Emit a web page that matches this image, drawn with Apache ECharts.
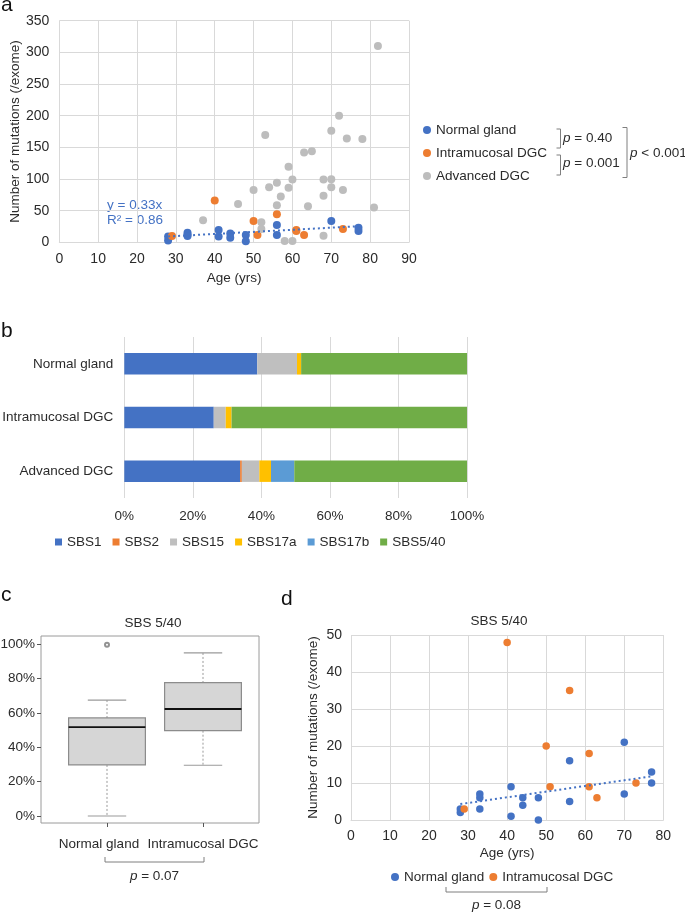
<!DOCTYPE html>
<html>
<head>
<meta charset="utf-8">
<script src="https://cdn.jsdelivr.net/npm/echarts/dist/echarts.min.js"></script>
<style>
  html, body { margin: 0; padding: 0; background: #fff; }
  #main { width: 685px; height: 913px; }
</style>
</head>
<body>
<div id="main"></div>
<script>
var FONT = '"Liberation Sans", Arial, sans-serif';
var BLUE = '#4472C4', ORANGE = '#ED7D31', GRAY = '#BDBDBD';
var GRID_LINE = '#D9D9D9', TXT = '#2b2b2b';

// a: age vs mutations per exome
var normalA = [[28, 3], [28, 9], [33, 15], [33, 12], [33, 10], [41, 19.5], [41, 9], [44, 14], [44, 7],
  [48, 11.5], [48, 1.5], [56, 27.5], [56, 11.5], [70, 33.5], [77, 23], [77, 18]];
var intraA = [[29, 10], [40, 66], [50, 33.5], [51, 11.5], [56, 44.5], [61, 19.5], [61, 18], [63, 11.5], [73, 21]];
var advancedA = [[37, 35], [46, 60.5], [50, 82.5], [52, 31.5], [52, 21], [53, 169.5], [54, 87], [56, 94],
  [56, 58.5], [57, 72.5], [58, 2], [59, 119.5], [59, 86], [60, 99], [60, 2], [63, 142], [64, 57], [65, 144],
  [68, 99], [68, 73.5], [68, 10.5], [70, 176], [70, 99.5], [70, 87], [72, 200], [73, 82.5], [74, 164],
  [78, 163], [81, 55], [82, 310]];
var trendA = [[28, 9.2], [77, 25.4]];

// b: signature contributions (%)
var groupsB = ['Normal gland', 'Intramucosal DGC', 'Advanced DGC'];
var sigNames = ['SBS1', 'SBS2', 'SBS15', 'SBS17a', 'SBS17b', 'SBS5/40'];
var sigColors = ['#4472C4', '#ED7D31', '#BFBFBF', '#FFC000', '#5B9BD5', '#70AD47'];
var sbs1 = [38.8, 26.1, 33.8];
var sbs2 = [0, 0, 0.5];
var sbs15 = [11.6, 3.5, 5.1];
var sbs17a = [1.2, 1.7, 3.4];
var sbs17b = [0, 0, 6.8];
var sbs540 = [48.4, 68.7, 50.4];
var sigValues = [sbs1, sbs2, sbs15, sbs17a, sbs17b, sbs540];

// c: SBS5/40 fraction boxplot  [min, q1, median, q3, max]
var boxGroups = ['Normal gland', 'Intramucosal DGC'];
var boxStats = [[0, 29.7, 51.7, 57, 67.4], [29.5, 49.6, 62.2, 77.5, 94.8]];
var boxOutliers = [[0, 99.6]];

// d: SBS5/40 mutations vs age
var normalD = [[28, 3], [28, 2], [33, 7], [33, 6], [33, 3], [41, 9], [41, 1], [44, 6], [44, 4], [48, 6],
  [48, 0], [56, 16], [56, 5], [70, 21], [70, 7], [77, 13], [77, 10]];
var intraD = [[29, 3], [40, 48], [50, 20], [51, 9], [56, 35], [61, 18], [61, 9], [63, 6], [73, 10]];
var trendD = [[28, 4.3], [77, 11.8]];

var chart = echarts.init(document.getElementById('main'));

function valueAxis(grid, min, max, interval, extra) {
  var ax = {
    type: 'value', gridIndex: grid, min: min, max: max, interval: interval,
    axisLine: { show: false }, axisTick: { show: false },
    splitLine: { show: true, lineStyle: { color: GRID_LINE, width: 1 } },
    axisLabel: { color: TXT, fontSize: 14, fontFamily: FONT },
    nameMoveOverlap: false
  };
  for (var k in extra) ax[k] = extra[k];
  return ax;
}

var nameStyle = { color: TXT, fontSize: 13.5, fontFamily: FONT };

var barSeries = sigNames.map(function (n, i) {
  return {
    name: n, type: 'bar', stack: 'sig', xAxisIndex: 1, yAxisIndex: 1,
    barWidth: '40%', data: sigValues[i], itemStyle: { color: sigColors[i] }
  };
});

function bracket(x1, x2, y1, y2) {
  return { type: 'polyline', shape: { points: [[x1, y1], [x1, y2], [x2, y2], [x2, y1]] },
    style: { stroke: '#7f7f7f', lineWidth: 1, fill: null } };
}
function vbracket(x1, x2, y1, y2) {
  return { type: 'polyline', shape: { points: [[x1, y1], [x2, y1], [x2, y2], [x1, y2]] },
    style: { stroke: '#7f7f7f', lineWidth: 1, fill: null } };
}
function ptext(str, x, y, align) {
  return { type: 'text', x: x, y: y, style: {
    text: '{i|p}' + str, align: align, verticalAlign: 'middle',
    font: '13.5px ' + FONT, fill: TXT,
    rich: { i: { fontStyle: 'italic', fontSize: 13.5, fontFamily: FONT, fill: TXT } } } };
}
function label(str, x, y, size, color) {
  return { type: 'text', x: x, y: y, style: { text: str, font: size + 'px ' + FONT, fill: color || '#111',
    align: 'left', verticalAlign: 'top' } };
}

var option = {
  animation: false,
  backgroundColor: '#fff',
  grid: [
    { left: 59.3, top: 20.7, width: 349.7, height: 221.6, outerBoundsMode: 'none' },
    { left: 124.3, top: 337, width: 342.7, height: 161, outerBoundsMode: 'none' },
    { left: 59, top: 644, width: 192, height: 172, outerBoundsMode: 'none' },
    { left: 41, top: 636, width: 218, height: 187, show: true, borderColor: '#9a9a9a', borderWidth: 1,
      backgroundColor: 'transparent', outerBoundsMode: 'none' },
    { left: 351, top: 635, width: 312.3, height: 185, outerBoundsMode: 'none' },
    // same columns as grid 2, bottom on the frame: carries the visible group axis of c
    { left: 59, top: 644, width: 192, height: 179, outerBoundsMode: 'none' }
  ],
  legend: [
    { data: ['Normal gland', 'Intramucosal DGC', 'Advanced DGC'], orient: 'vertical', left: 423, top: 123,
      padding: 0, icon: 'circle', itemWidth: 8, itemHeight: 8, itemGap: 9, selectedMode: false,
      textStyle: { color: TXT, fontSize: 13.5, fontFamily: FONT, lineHeight: 14 } },
    { data: sigNames, orient: 'horizontal', left: 55, top: 535, padding: 0, icon: 'rect',
      itemWidth: 7, itemHeight: 7, itemGap: 11, selectedMode: false,
      textStyle: { color: TXT, fontSize: 13.5, fontFamily: FONT } },
    { data: ['Normal gland', 'Intramucosal DGC'], orient: 'horizontal', left: 391, top: 870, padding: 0,
      icon: 'circle', itemWidth: 8, itemHeight: 8, itemGap: 5, selectedMode: false,
      textStyle: { color: TXT, fontSize: 13.5, fontFamily: FONT } }
  ],
  xAxis: [
    valueAxis(0, 0, 90, 10, {
      axisLine: { show: true, lineStyle: { color: GRID_LINE } },
      axisLabel: { color: TXT, fontSize: 14, fontFamily: FONT, margin: 10 },
      name: 'Age (yrs)', nameLocation: 'middle', nameGap: 29, nameTextStyle: nameStyle
    }),
    valueAxis(1, 0, 100, 20, {
      axisLabel: { color: TXT, fontSize: 13.5, fontFamily: FONT, margin: 11, formatter: '{value}%' }
    }),
    { type: 'category', gridIndex: 2, data: boxGroups, show: false },
    { type: 'value', gridIndex: 3, show: false },
    valueAxis(4, 0, 80, 10, {
      axisLine: { show: true, lineStyle: { color: GRID_LINE } },
      axisLabel: { color: TXT, fontSize: 14, fontFamily: FONT, margin: 9 },
      name: 'Age (yrs)', nameLocation: 'middle', nameGap: 26, nameTextStyle: nameStyle
    }),
    { type: 'category', gridIndex: 5, data: boxGroups,
      axisLine: { show: false },
      axisTick: { show: true, alignWithLabel: true, interval: 0, length: 4, lineStyle: { color: '#555' } },
      axisLabel: { interval: 0, color: TXT, fontSize: 13.5, fontFamily: FONT, margin: 14,
        formatter: function (v, i) { return i === 0 ? '{l|' + v + '}' : v; },
        rich: { l: { padding: [0, 16, 0, 0], fontSize: 13.5, fontFamily: FONT, color: TXT } } } }
  ],
  yAxis: [
    valueAxis(0, 0, 350, 50, {
      axisLabel: { color: TXT, fontSize: 14, fontFamily: FONT, margin: 10 },
      name: 'Number of mutations (/exome)', nameLocation: 'middle', nameGap: 37, nameTextStyle: nameStyle
    }),
    { type: 'category', gridIndex: 1, data: groupsB, inverse: true,
      axisLine: { show: false }, axisTick: { show: false },
      axisLabel: { color: TXT, fontSize: 13.5, fontFamily: FONT, margin: 11 } },
    { type: 'value', gridIndex: 2, min: 0, max: 100, interval: 20, offset: 18,
      axisLine: { show: false }, splitLine: { show: false },
      axisTick: { show: true, length: 4, lineStyle: { color: '#555' } },
      axisLabel: { color: TXT, fontSize: 13.5, fontFamily: FONT, margin: 6, formatter: '{value}%' } },
    { type: 'value', gridIndex: 3, show: false },
    valueAxis(4, 0, 50, 10, {
      axisLabel: { color: TXT, fontSize: 14, fontFamily: FONT, margin: 9 },
      name: 'Number of mutations (/exome)', nameLocation: 'middle', nameGap: 31, nameTextStyle: nameStyle
    }),
    { type: 'value', gridIndex: 5, show: false }
  ],
  series: [
    { name: 'Normal gland', type: 'scatter', xAxisIndex: 0, yAxisIndex: 0, data: normalA,
      symbolSize: 8, itemStyle: { color: BLUE, opacity: 1 } },
    { name: 'Intramucosal DGC', type: 'scatter', xAxisIndex: 0, yAxisIndex: 0, data: intraA,
      symbolSize: 8, itemStyle: { color: ORANGE, opacity: 1 } },
    { name: 'Advanced DGC', type: 'scatter', xAxisIndex: 0, yAxisIndex: 0, data: advancedA,
      symbolSize: 8, itemStyle: { color: GRAY, opacity: 1 } },
    { name: 'trend a', type: 'line', xAxisIndex: 0, yAxisIndex: 0, data: trendA, showSymbol: false,
      lineStyle: { color: BLUE, width: 2, type: [2, 3] }, z: 5 }
  ].concat(barSeries).concat([
    { name: 'box c', type: 'custom', xAxisIndex: 2, yAxisIndex: 2,
      data: boxStats.map(function (s, i) { return [i].concat(s); }),
      encode: { x: 0, y: [1, 2, 3, 4, 5] },
      renderItem: function (params, api) {
        var idx = api.value(0);
        var lo = api.coord([idx, api.value(1)]);
        var q1 = api.coord([idx, api.value(2)]);
        var md = api.coord([idx, api.value(3)]);
        var q3 = api.coord([idx, api.value(4)]);
        var hi = api.coord([idx, api.value(5)]);
        var band = api.size([1, 0])[0];
        var bw = band * 0.8, cw = band * 0.4, cx = md[0];
        var whisk = { stroke: '#9a9a9a', lineWidth: 1, lineDash: [2, 2] };
        var solid = { stroke: '#9a9a9a', lineWidth: 1.2 };
        return { type: 'group', children: [
          { type: 'line', shape: { x1: cx, y1: hi[1], x2: cx, y2: q3[1] }, style: whisk },
          { type: 'line', shape: { x1: cx, y1: q1[1], x2: cx, y2: lo[1] }, style: whisk },
          { type: 'line', shape: { x1: cx - cw / 2, y1: hi[1], x2: cx + cw / 2, y2: hi[1] }, style: solid },
          { type: 'line', shape: { x1: cx - cw / 2, y1: lo[1], x2: cx + cw / 2, y2: lo[1] }, style: solid },
          { type: 'rect', shape: { x: cx - bw / 2, y: q3[1], width: bw, height: q1[1] - q3[1] },
            style: { fill: '#D6D6D6', stroke: '#8c8c8c', lineWidth: 1.2 } },
          { type: 'line', shape: { x1: cx - bw / 2, y1: md[1], x2: cx + bw / 2, y2: md[1] },
            style: { stroke: '#111', lineWidth: 1.8 } }
        ] };
      } },
    { name: 'outlier c', type: 'scatter', xAxisIndex: 2, yAxisIndex: 2, data: boxOutliers,
      symbol: 'emptyCircle', symbolSize: 4, clip: false,
      itemStyle: { color: '#777', borderColor: '#777', borderWidth: 1 } },
    { name: 'Normal gland', type: 'scatter', xAxisIndex: 4, yAxisIndex: 4, data: normalD,
      symbolSize: 7.5, itemStyle: { color: BLUE, opacity: 1 } },
    { name: 'Intramucosal DGC', type: 'scatter', xAxisIndex: 4, yAxisIndex: 4, data: intraD,
      symbolSize: 7.5, itemStyle: { color: ORANGE, opacity: 1 } },
    { name: 'trend d', type: 'line', xAxisIndex: 4, yAxisIndex: 4, data: trendD, showSymbol: false,
      lineStyle: { color: BLUE, width: 2, type: [2, 3] }, z: 5 }
  ]),
  graphic: [
    label('a', 1, -5, 21), label('b', 1, 321, 21), label('c', 1, 585, 21), label('d', 281, 589, 21),
    { type: 'text', x: 107, y: 205, style: { text: 'y = 0.33x', font: '13.5px ' + FONT, fill: BLUE,
      align: 'left', verticalAlign: 'middle' } },
    { type: 'text', x: 107, y: 220, style: { text: 'R² = 0.86', font: '13.5px ' + FONT, fill: BLUE,
      align: 'left', verticalAlign: 'middle' } },
    vbracket(556.5, 560.5, 129, 148), vbracket(556.5, 560.5, 155, 175), vbracket(622.5, 627, 127.5, 177.5),
    ptext(' = 0.40', 563, 138.5, 'left'), ptext(' = 0.001', 563, 163, 'left'), ptext(' < 0.001', 630, 153, 'left'),
    { type: 'text', x: 153, y: 623, style: { text: 'SBS 5/40', font: '13.5px ' + FONT, fill: TXT,
      align: 'center', verticalAlign: 'middle' } },
    { type: 'text', x: 499, y: 621, style: { text: 'SBS 5/40', font: '13.5px ' + FONT, fill: TXT,
      align: 'center', verticalAlign: 'middle' } },
    bracket(105, 204, 857, 862), ptext(' = 0.07', 154.5, 876, 'center'),
    bracket(446, 547, 887, 892), ptext(' = 0.08', 496.5, 905, 'center')
  ]
};

chart.setOption(option);
</script>
</body>
</html>
